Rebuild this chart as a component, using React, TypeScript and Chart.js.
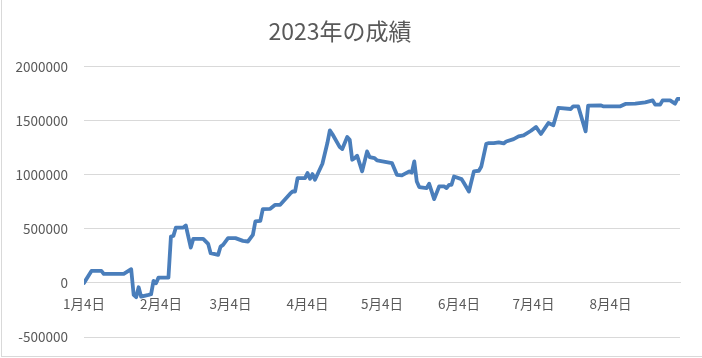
import React, { useEffect, useRef } from "react";
import { Chart, registerables } from "chart.js";

Chart.register(...registerables);

const title = "2023年の成績";

const dates = [
  "01-04", "01-07", "01-11", "01-12", "01-20", "01-23", "01-24", "01-25", "01-26", "01-27",
  "01-30", "01-31", "02-01", "02-02", "02-03", "02-07", "02-08", "02-09", "02-10", "02-13",
  "02-14", "02-16", "02-17", "02-21", "02-23", "02-24", "02-27", "02-28", "03-01", "03-03",
  "03-06", "03-09", "03-11", "03-13", "03-14", "03-16", "03-17", "03-20", "03-22", "03-24",
  "03-28", "03-29", "03-30", "03-31", "04-03", "04-04", "04-05", "04-06", "04-07", "04-10",
  "04-12", "04-13", "04-14", "04-17", "04-18", "04-20", "04-21", "04-22", "04-23", "04-24",
  "04-26", "04-28", "04-29", "05-01", "05-02", "05-08", "05-10", "05-12", "05-15", "05-16",
  "05-17", "05-18", "05-19", "05-22", "05-23", "05-25", "05-27", "05-29", "05-30", "05-31",
  "06-01", "06-02", "06-05", "06-06", "06-08", "06-10", "06-12", "06-13", "06-15", "06-16",
  "06-18", "06-20", "06-22", "06-23", "06-26", "06-28", "06-30", "07-03", "07-05", "07-07",
  "07-10", "07-12", "07-14", "07-19", "07-20", "07-22", "07-25", "07-26", "07-31", "08-01",
  "08-08", "08-10", "08-14", "08-18", "08-21", "08-22", "08-24", "08-25", "08-28", "08-30",
  "08-31", "09-01",
];

const values = [
  0, 111000, 111000, 83000, 83000, 127000, -111000, -132000, -40000, -127000,
  -111000, -105000, 18000, -3000, 49000, 49000, 429000, 435000, 512000, 512000,
  531000, 327000, 407000, 407000, 361000, 275000, 259000, 336000, 352000, 414000,
  414000, 389000, 383000, 444000, 568000, 574000, 682000, 685000, 722000, 722000,
  825000, 845000, 845000, 969000, 969000, 1016000, 963000, 1006000, 954000, 1102000,
  1293000, 1410000, 1377000, 1256000, 1238000, 1349000, 1324000, 1139000, 1154000, 1176000,
  1031000, 1216000, 1164000, 1154000, 1132000, 1108000, 1000000, 994000, 1031000, 1021000,
  1123000, 938000, 886000, 877000, 917000, 775000, 892000, 892000, 877000, 907000,
  907000, 984000, 960000, 923000, 845000, 1031000, 1037000, 1077000, 1287000, 1293000,
  1293000, 1300000, 1290000, 1308000, 1330000, 1355000, 1364000, 1407000, 1442000, 1377000,
  1479000, 1457000, 1618000, 1608000, 1633000, 1633000, 1401000, 1639000, 1642000, 1633000,
  1633000, 1655000, 1657000, 1670000, 1688000, 1648000, 1648000, 1688000, 1688000, 1657000,
  1701000, 1701000,
];

const tickDates = ["01-04", "02-04", "03-04", "04-04", "05-04", "06-04", "07-04", "08-04"];
const tickLabels = ["1月4日", "2月4日", "3月4日", "4月4日", "5月4日", "6月4日", "7月4日", "8月4日"];

const yMin = -500000;
const yMax = 2000000;
const yStep = 500000;

const dayOf = (md: string) => {
  const [m, d] = md.split("-").map(Number);
  return Math.round((Date.UTC(2023, m - 1, d) - Date.UTC(2023, 0, 4)) / 86400000);
};

const FONT = '"Noto Sans CJK JP", "Noto Sans", sans-serif';

export default function App() {
  const ref = useRef<HTMLCanvasElement | null>(null);

  useEffect(() => {
    if (!ref.current) return;
    const points = dates.map((d, i) => ({ x: dayOf(d), y: values[i] }));
    const tickDays = tickDates.map(dayOf);
    const chart = new Chart(ref.current, {
      type: "line",
      data: {
        datasets: [
          {
            data: points,
            borderColor: "#4a7ebb",
            borderWidth: 3.8,
            pointRadius: 0,
            tension: 0,
            borderJoinStyle: "round",
            borderCapStyle: "round",
            fill: false,
          },
        ],
      },
      options: {
        responsive: false,
        animation: false,
        layout: { padding: { left: 0, right: 22, top: 0, bottom: 21 } },
        plugins: {
          legend: { display: false },
          tooltip: { enabled: false },
          title: {
            display: true,
            text: title,
            color: "#595959",
            font: { family: FONT, size: 23, weight: "normal" },
            padding: { top: 17, bottom: 22 },
          },
        },
        scales: {
          x: {
            type: "linear",
            position: { y: 0 } as any,
            min: 0,
            max: dayOf(dates[dates.length - 1]),
            afterBuildTicks: (scale: any) => {
              scale.ticks = tickDays.map((v) => ({ value: v }));
            },
            afterFit: (scale: any) => {
              scale.height = 0;
            },
            ticks: {
              autoSkip: false,
              maxRotation: 0,
              color: "#595959",
              font: { family: FONT, size: 13.5 },
              padding: 13,
              callback: (v: any) => {
                const idx = tickDays.indexOf(Number(v));
                return idx >= 0 ? tickLabels[idx] : "";
              },
            },
            grid: { display: false, drawTicks: false },
            border: { display: true, color: "#d9d9d9", width: 1 },
          },
          y: {
            type: "linear",
            min: yMin,
            max: yMax,
            afterFit: (scale: any) => {
              scale.width = 84;
              scale.paddingTop = 0;
              scale.paddingBottom = 0;
            },
            ticks: {
              stepSize: yStep,
              color: "#595959",
              font: { family: FONT, size: 13.5 },
              padding: 16,
              callback: (v: any) => String(v),
            },
            grid: { color: "#d9d9d9", lineWidth: 1, drawTicks: false },
            border: { display: false },
          },
        },
      },
    });
    return () => chart.destroy();
  }, []);

  return (
    <div
      style={{
        position: "fixed",
        left: 0,
        top: 0,
        width: 702,
        height: 358,
        background: "#ffffff",
      }}
    >
      <canvas ref={ref} width={702} height={358} style={{ display: "block" }} />
      <div
        style={{
          position: "absolute",
          left: 1,
          top: -1,
          width: 702,
          height: 358,
          boxSizing: "border-box",
          border: "1px solid #d9d9d9",
          pointerEvents: "none",
        }}
      />
    </div>
  );
}
